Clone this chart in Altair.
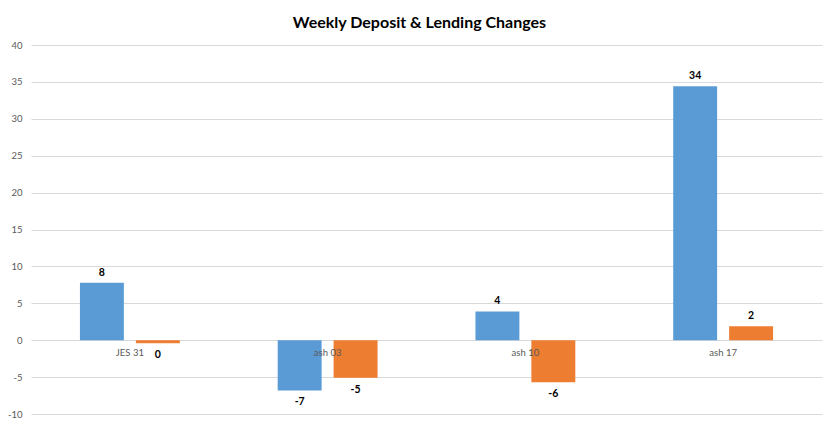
import altair as alt
import pandas as pd

weeks = ["JES 31", "ash 03", "ash 10", "ash 17"]
deposit_change = [7.8, -6.8, 3.9, 34.4]
lending_change = [-0.4, -5.1, -5.7, 1.9]
series_names = ["Deposits", "Lending"]
series_colors = ["#5B9BD5", "#ED7D31"]
y_ticks = [-10, -5, 0, 5, 10, 15, 20, 25, 30, 35, 40]

rows = []
for w, d, l in zip(weeks, deposit_change, lending_change):
    rows.append({"week": w, "series": series_names[0], "value": d})
    rows.append({"week": w, "series": series_names[1], "value": l})
df = pd.DataFrame(rows)
cat_df = pd.DataFrame({"week": weeks, "zero": [0] * len(weeks)})

FONT = "Lato"

x_enc = alt.X("week:N", sort=weeks, axis=None,
              scale=alt.Scale(paddingInner=0.495, paddingOuter=0.2475))
xo_enc = alt.XOffset("series:N", sort=series_names,
                     scale=alt.Scale(paddingInner=0.2143, paddingOuter=0))
y_scale = alt.Scale(domain=[-10, 40], nice=False, zero=False)
y_axis = alt.Axis(values=y_ticks, labelExpr="'' + datum.value",
                  labelOverlap=False,
                  grid=True, gridColor="#D9D9D9", gridWidth=1,
                  domain=False, ticks=False, labelPadding=9,
                  labelColor="#595959", labelFont=FONT, labelFontSize=9.5)
y_enc = alt.Y("value:Q", scale=y_scale, title=None, axis=y_axis)
color_enc = alt.Color("series:N", sort=series_names,
                      scale=alt.Scale(domain=series_names, range=series_colors),
                      legend=None)

base = alt.Chart(df).encode(x=x_enc, xOffset=xo_enc)

bars = base.mark_bar().encode(y=y_enc, y2=alt.datum(0), color=color_enc)

lab_pos = base.transform_filter("datum.value >= 0").transform_calculate(
    lbl="'' + round(datum.value)"
).mark_text(baseline="bottom", dy=-5, font=FONT, fontWeight="bold",
            fontSize=10.5, color="#000000").encode(
    y=alt.Y("value:Q", scale=y_scale, title=None, axis=y_axis), text="lbl:N")

lab_neg = base.transform_filter("datum.value < 0").transform_calculate(
    lbl="'' + round(datum.value)"
).mark_text(baseline="top", dy=7, font=FONT, fontWeight="bold",
            fontSize=10.5, color="#000000").encode(
    y=alt.Y("value:Q", scale=y_scale, title=None, axis=y_axis), text="lbl:N")

cats = alt.Chart(cat_df).mark_text(baseline="middle", dy=13, font=FONT,
                                   fontSize=9.5, color="#595959").encode(
    x=alt.X("week:N", sort=weeks, axis=None),
    y=alt.Y("zero:Q", scale=y_scale, title=None, axis=y_axis),
    text="week:N")

chart = alt.layer(bars, lab_pos, lab_neg, cats).properties(
    width=791, height=369,
    padding={"left": 23, "top": 37, "right": 10, "bottom": 4},
    autosize=alt.AutoSizeParams(type="none"),
    background="#FFFFFF",
    title=alt.Title("Weekly Deposit & Lending Changes", font=FONT,
                    fontSize=16, fontWeight="bold", color="#000000",
                    anchor="middle", offset=9, dx=-7),
).configure_view(stroke="transparent", strokeWidth=0)

chart.save("out.html", embed_options={"renderer": "svg", "actions": False})
